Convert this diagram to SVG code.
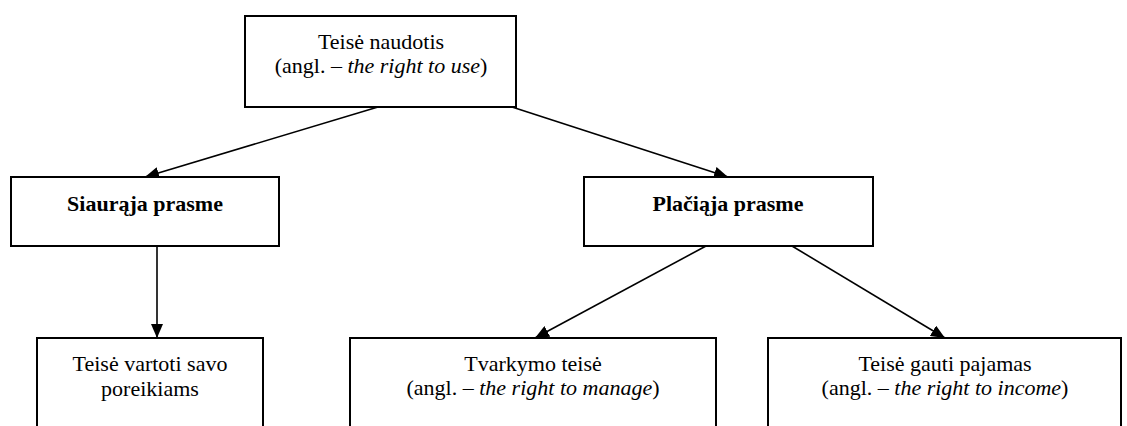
<svg xmlns="http://www.w3.org/2000/svg" width="1127" height="426" viewBox="0 0 1127 426">
<style>
.box{fill:#fff;stroke:#000;stroke-width:2}
.t{font-family:"Liberation Serif","Times New Roman",serif;font-size:22px;fill:#000;text-anchor:middle}
.b{font-weight:bold}
.i{font-style:italic}
.c{stroke:#000;stroke-width:1.6;fill:none}
</style>
<defs>
<marker id="ah" viewBox="0 0 14 12" refX="14" refY="6" markerWidth="14" markerHeight="12" markerUnits="userSpaceOnUse" orient="auto">
<path d="M0,0 L14,6 L0,12 z" fill="#000"/>
</marker>
</defs>
<rect width="1127" height="426" fill="#fff"/>
<g id="connectors">
<line class="c" x1="378" y1="107" x2="145" y2="177" marker-end="url(#ah)"/>
<line class="c" x1="512" y1="107" x2="728" y2="177" marker-end="url(#ah)"/>
<line class="c" x1="157" y1="246" x2="157" y2="338" marker-end="url(#ah)"/>
<line class="c" x1="706" y1="246" x2="535" y2="338" marker-end="url(#ah)"/>
<line class="c" x1="792" y1="246" x2="945" y2="338" marker-end="url(#ah)"/>
</g>
<g id="n-top">
<rect class="box" x="245" y="16" width="271" height="91"/>
<text class="t" x="381" y="49">Teisė naudotis</text>
<text class="t" x="381" y="73">(angl. – <tspan class="i">the right to use</tspan>)</text>
</g>
<g id="n-siau">
<rect class="box" x="11" y="177" width="268" height="69"/>
<text class="t b" x="145" y="211">Siaurąja prasme</text>
</g>
<g id="n-plac">
<rect class="box" x="584" y="177" width="289" height="69"/>
<text class="t b" x="728" y="211">Plačiąja prasme</text>
</g>
<g id="n-vart">
<rect class="box" x="37" y="338" width="226" height="100"/>
<text class="t" x="150" y="371">Teisė vartoti savo</text>
<text class="t" x="150" y="396">poreikiams</text>
</g>
<g id="n-tvark">
<rect class="box" x="350" y="338" width="366" height="100"/>
<text class="t" x="533" y="371">Tvarkymo teisė</text>
<text class="t" x="533" y="395">(angl. – <tspan class="i">the right to manage</tspan>)</text>
</g>
<g id="n-paj">
<rect class="box" x="768" y="338" width="353" height="100"/>
<text class="t" x="945" y="371">Teisė gauti pajamas</text>
<text class="t" x="945" y="395">(angl. – <tspan class="i">the right to income</tspan>)</text>
</g>
</svg>
